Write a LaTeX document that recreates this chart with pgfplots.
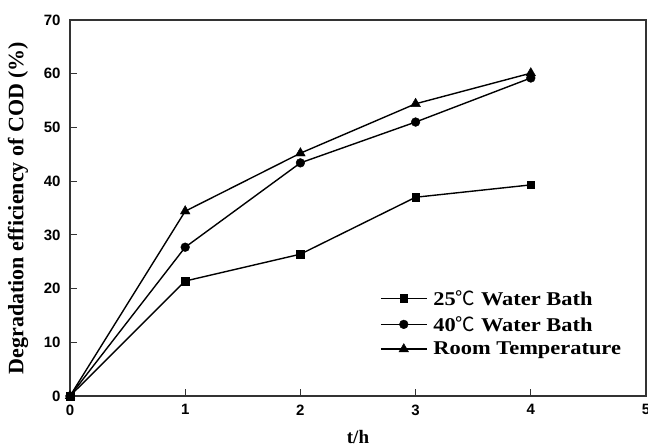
\documentclass[border=0pt]{standalone}
\usepackage{pgfplots}
\pgfplotsset{compat=1.18}
\usepackage{fontspec}
\setmainfont{Liberation Serif}
\newfontfamily\ticksf{Liberation Sans}
\newfontfamily\legserif[FakeStretch=1.15]{Liberation Serif}
\newfontfamily\cjk{Noto Sans CJK SC}
\newcommand{\degC}{{\cjk\mdseries ℃}}
\begin{document}
\begin{tikzpicture}
\begin{axis}[
  name=ax,
  scale only axis,
  width=576pt, height=376pt,
  xmin=0, xmax=5, ymin=0, ymax=70,
  xtick={0,1,2,3,4,5}, ytick={0,10,20,30,40,50,60,70},
  xtick pos=bottom, ytick pos=left,
  tick align=inside,
  major tick length=7pt,
  axis line style={line width=1.3pt, black!80},
  tick style={line width=1.2pt, black!80},
  /pgf/number format/assume math mode=true,
  ticklabel style={font=\ticksf\bfseries\fontsize{15}{17}\selectfont},
  xticklabel style={yshift=-5pt},
  yticklabel style={xshift=-6pt},
  xlabel={t/h},
  ylabel={Degradation efficiency of COD (\%)},
  xlabel style={font=\bfseries\fontsize{19}{22}\selectfont, at={(rel axis cs:0.5,0)}, anchor=base, yshift=-48pt},
  ylabel style={font=\bfseries\fontsize{22}{24}\selectfont, at={(rel axis cs:0,0.5)}, anchor=center, yshift=52pt},
  legend style={draw=none, fill=none, at={(axis cs:2.69,19.9)}, anchor=north west,
    inner sep=0pt, row sep=7.5pt,
    font=\legserif\bfseries\fontsize{19.5}{21}\selectfont,
    nodes={inner sep=1pt},
    /tikz/every odd column/.append style={column sep=5pt}},
  legend cell align=left,
  legend image code/.code={\draw[#1, mark repeat=2, mark phase=2] plot coordinates {(0pt,0pt) (23pt,0pt) (46pt,0pt)};},
  every axis plot/.append style={line width=1.4pt, black},
]
\addplot[mark=square*, mark size=3.8pt, mark options={line width=0.4pt}] coordinates {(0,0) (1,21.4) (2,26.4) (3,37.0) (4,39.3)};
\addlegendentry{25\degC\ Water Bath}
\addplot[mark=*, mark size=4.4pt, mark options={line width=0.4pt}] coordinates {(0,0) (1,27.7) (2,43.4) (3,51.0) (4,59.2)};
\addlegendentry{40\degC\ Water Bath}
\addplot[mark=triangle*, mark size=5.6pt, mark options={line width=0.4pt}] coordinates {(0,0) (1,34.4) (2,45.2) (3,54.4) (4,60.1)};
\addlegendentry{Room Temperature}
\end{axis}
\pgfresetboundingbox
\path[use as bounding box] ([xshift=-70pt,yshift=-52pt]ax.south west) rectangle ([xshift=2pt,yshift=20pt]ax.north east);
\end{tikzpicture}
\end{document}
